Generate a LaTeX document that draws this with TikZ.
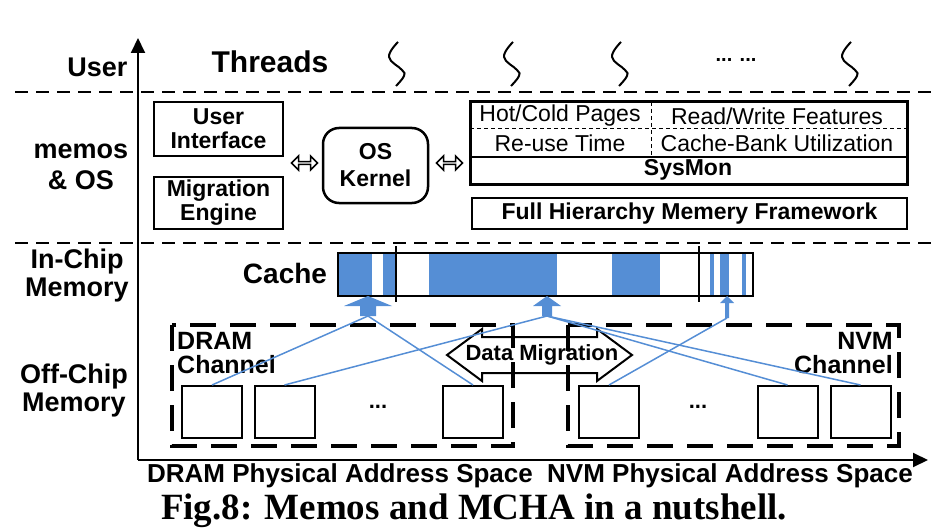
\documentclass[tikz,border=0pt]{standalone}
\usepackage{fontspec}
\setmainfont{Liberation Sans}
\newfontfamily\capfont{Liberation Serif}
\usetikzlibrary{arrows.meta, shapes.arrows}

\definecolor{memblue}{RGB}{85,142,213}

\tikzset{
  lbl/.style={font=\bfseries\fontsize{27}{28}\selectfont, align=center},
  box/.style={draw, line width=2.5pt, align=center, inner sep=0pt, font=\bfseries\fontsize{23}{24}\selectfont},
  feat/.style={font=\fontsize{23}{24}\selectfont},
  membox/.style={draw, line width=2pt, minimum width=60pt, minimum height=52pt, inner sep=0pt},
  chanbox/.style={line width=4pt, dash pattern=on 26pt off 14pt},
  chanlbl/.style={font=\bfseries\fontsize{25}{24}\selectfont, inner sep=0pt},
  sep/.style={line width=1.5pt, dash pattern=on 13pt off 8pt},
  link/.style={memblue, line width=1.5pt},
  thread/.style={line width=2pt},
  bothways/.style={double arrow, draw, line width=1.5pt, minimum height=26pt, minimum width=14pt, double arrow head extend=3pt, inner sep=0pt}
}

\begin{document}
\begin{tikzpicture}[x=1pt, y=-1pt]
\useasboundingbox (0,0) rectangle (942,532);

%axes
\draw[line width=2pt, -{Triangle[width=14pt,length=15pt]}] (138,460) -- (138,38);
\draw[line width=2pt, -{Triangle[width=14pt,length=15pt]}] (138,460) -- (928,460);
\node[font=\bfseries\fontsize{26}{26}\selectfont] (dspace) at (340,476) {DRAM Physical Address Space};
\node[font=\bfseries\fontsize{26}{26}\selectfont] (nspace) at (730,476) {NVM Physical Address Space};

%layers
\draw[sep] (15,92) -- (932,92);
\draw[sep] (15,243) -- (932,243);
\node[lbl, anchor=east] (user) at (131,67) {User};
\node[lbl, font=\bfseries\fontsize{27}{31}\selectfont] (memos) at (81,167) {memos\\\& OS};
\node[lbl] (inchip) at (77,276) {In-Chip\\Memory};
\node[lbl] (offchip) at (74,391) {Off-Chip\\Memory};

%threads
\node[font=\bfseries\fontsize{30}{30}\selectfont] (threads) at (270,62) {Threads};
\foreach \t in {397,512,620,850}
  \draw[thread, xshift=\t] plot[smooth, tension=0.7] coordinates {(1,42) (-8,57) (5,70) (7,76) (-1,86)};
\node[font=\bfseries\fontsize{20}{20}\selectfont] (more) at (736,60) {... ...};

%memos & OS
\node[box, minimum width=129pt, minimum height=54pt] (ui) at (218.5,129) {User\\Interface};
\node[box, minimum width=129pt, minimum height=52pt] (me) at (218.5,203) {Migration\\Engine};
\node[box, rounded corners=16pt, minimum width=105pt, minimum height=75pt, font=\bfseries\fontsize{23}{27}\selectfont] (os) at (375.5,165.5) {OS\\Kernel};
\node[bothways] (ar1) at (304.5,163) {};
\node[bothways] (ar2) at (449.5,163) {};

\node[draw, line width=3pt, minimum width=437pt, minimum height=82pt] (sysmon) at (688.5,143) {};
\draw[line width=1pt, dash pattern=on 4pt off 3pt] (470,129) -- (907,129);
\draw[line width=1pt, dash pattern=on 4pt off 3pt] (651,102) -- (651,157);
\draw[line width=1.5pt] (470,157) -- (907,157);
\node[feat] (hot) at (560,116) {Hot/Cold Pages};
\node[feat] (rw) at (777,116) {Read/Write Features};
\node[feat] (reuse) at (560,143) {Re-use Time};
\node[feat] (bank) at (777,143) {Cache-Bank Utilization};
\node[font=\bfseries\fontsize{23}{24}\selectfont] (smlbl) at (688,170) {SysMon};
\node[box, minimum width=435pt, minimum height=31pt] (fhmf) at (689.5,213.5) {Full Hierarchy Memery Framework};

%cache
\node[font=\bfseries\fontsize{28}{28}\selectfont] (cachelbl) at (285,273) {Cache};
\foreach \a/\b in {338/372, 383/396, 429/557, 612/660, 710/714, 720/729, 742/746}
  \fill[memblue] (\a,253) rectangle (\b,296);
\node[draw, line width=2pt, minimum width=415pt, minimum height=43pt, inner sep=0pt] (cache) at (545.5,274.5) {};
\draw[line width=2.5pt] (396,246) -- (396,302);
\draw[line width=2.5pt] (699,246) -- (699,302);

%blue arrows into the cache
\fill[memblue] (344,306) -- (368,296) -- (392,306) -- (376,306) -- (376,316) -- (360,316) -- (360,306) -- cycle;
\fill[memblue] (533,306) -- (547,296) -- (561,306) -- (552,306) -- (552,316) -- (542,316) -- (542,306) -- cycle;
\fill[memblue] (720,303) -- (727,296) -- (734,303) -- (729,303) -- (729,318) -- (725,318) -- (725,303) -- cycle;
\coordinate (a1) at (368,316);
\coordinate (a2) at (547,316);
\coordinate (a3) at (727,318);

%data migration
\draw[line width=2pt, fill=white] (447,355) -- (482,329) -- (482,337) -- (597,337) -- (597,329) -- (632,355)
  -- (597,381) -- (597,373) -- (482,373) -- (482,381) -- cycle;
\node[font=\bfseries\fontsize{22}{22}\selectfont] (dm) at (542,355) {Data Migration};

%channels
\draw[chanbox] (172,325) rectangle (513,446);
\draw[chanbox] (568,325) rectangle (899,446);
\node[chanlbl, anchor=north west, align=left] (dram) at (177,332) {DRAM\\Channel};
\node[chanlbl, anchor=north east, align=right] (nvm) at (893,332) {NVM\\Channel};

\foreach \nm/\x in {d1/212, d2/284.5, d3/473, n1/609, n3/787.5, n4/860.5}
  \node[membox] (\nm) at (\x,412) {};
\node[font=\bfseries\fontsize{22}{22}\selectfont] (ddots) at (378,407) {...};
\node[font=\bfseries\fontsize{22}{22}\selectfont] (ndots) at (698,407) {...};

\draw[link] (a1) -- (d1.north);
\draw[link] (a1) -- (d3.north);
\draw[link] (a2) -- (d2.north);
\draw[link] (a2) -- (n3.north);
\draw[link] (a2) -- (n4.north);
\draw[link] (a3) -- (n1.north);

%caption
\node[font=\capfont\bfseries\fontsize{37}{37}\selectfont] (caption) at (474,511) {Fig.8: Memos and MCHA in a nutshell.};
\end{tikzpicture}
\end{document}
